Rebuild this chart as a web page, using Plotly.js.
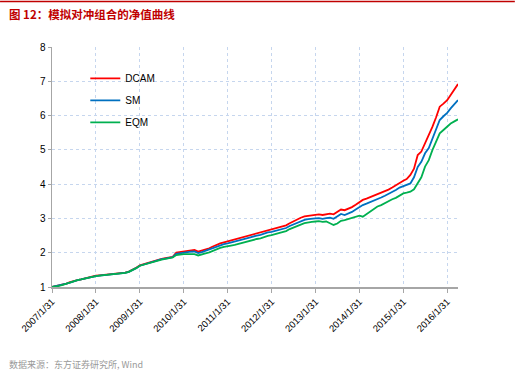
<!DOCTYPE html>
<html>
<head>
<meta charset="utf-8">
<script src="https://cdn.plot.ly/plotly-3.0.1.min.js"></script>
<style>
html,body{margin:0;padding:0;background:#fff;}
#chart{width:515px;height:376px;}
</style>
</head>
<body>
<div id="chart"></div>
<script>
// Monthly dates 2007-01 .. 2016-04 (month-end)
const startYear = 2007, startMonth = 0, nMonths = 112;
const dates = [];
for (let i = 0; i < nMonths; i++) {
  const y = startYear + Math.floor((startMonth + i) / 12);
  const m = (startMonth + i) % 12;
  const last = new Date(Date.UTC(y, m + 1, 0)).getUTCDate();
  dates.push(y + '-' + String(m + 1).padStart(2, '0') + '-' + String(last).padStart(2, '0'));
}

const dcam = [
  1.00,1.02,1.05,1.08,1.10,1.14,1.18,1.20,1.22,1.25,1.28,1.30,
  1.33,1.34,1.35,1.36,1.36,1.37,1.38,1.40,1.42,1.45,1.50,1.56,
  1.63,1.66,1.70,1.72,1.76,1.79,1.82,1.84,1.86,1.88,2.00,2.02,
  2.04,2.05,2.07,2.08,2.03,2.06,2.10,2.13,2.18,2.23,2.27,2.30,
  2.33,2.36,2.38,2.40,2.43,2.46,2.50,2.54,2.56,2.58,2.62,2.66,
  2.68,2.71,2.73,2.76,2.80,2.86,2.92,2.97,3.02,3.06,3.08,3.10,
  3.11,3.12,3.10,3.13,3.14,3.12,3.18,3.26,3.24,3.28,3.33,3.40,
  3.48,3.54,3.58,3.62,3.66,3.71,3.74,3.79,3.84,3.90,3.97,4.05,
  4.10,4.15,4.27,4.45,4.85,4.95,5.20,5.40,5.67,5.95,6.26,6.35,
  6.45,6.60,6.75,6.92
];
const sm = [
  1.00,1.02,1.05,1.07,1.10,1.13,1.17,1.20,1.22,1.25,1.28,1.30,
  1.32,1.33,1.34,1.35,1.35,1.36,1.37,1.39,1.41,1.44,1.49,1.55,
  1.62,1.65,1.69,1.71,1.75,1.78,1.81,1.83,1.85,1.87,1.97,1.99,
  2.00,2.01,2.03,2.04,1.99,2.02,2.06,2.09,2.14,2.18,2.22,2.25,
  2.27,2.30,2.32,2.35,2.38,2.41,2.44,2.48,2.50,2.52,2.56,2.59,
  2.61,2.64,2.66,2.69,2.72,2.78,2.83,2.88,2.92,2.96,2.98,3.00,
  3.00,3.01,2.99,3.01,3.02,2.99,3.05,3.13,3.10,3.14,3.19,3.26,
  3.33,3.39,3.43,3.48,3.52,3.58,3.61,3.66,3.71,3.76,3.83,3.90,
  3.94,3.98,4.02,4.20,4.50,4.65,4.90,5.05,5.34,5.60,5.87,5.98,
  6.08,6.21,6.33,6.45
];
const eqm = [
  1.00,1.01,1.03,1.06,1.10,1.14,1.18,1.20,1.22,1.25,1.28,1.30,
  1.32,1.33,1.34,1.35,1.35,1.36,1.37,1.39,1.41,1.44,1.49,1.55,
  1.62,1.65,1.69,1.71,1.74,1.77,1.80,1.82,1.84,1.86,1.93,1.95,
  1.96,1.96,1.97,1.96,1.92,1.94,1.98,2.01,2.06,2.10,2.14,2.17,
  2.18,2.21,2.23,2.26,2.29,2.32,2.35,2.38,2.40,2.42,2.46,2.49,
  2.51,2.55,2.57,2.60,2.63,2.69,2.74,2.78,2.82,2.86,2.89,2.90,
  2.91,2.92,2.90,2.91,2.86,2.81,2.85,2.93,2.95,2.98,3.02,3.06,
  3.08,3.05,3.12,3.20,3.28,3.35,3.39,3.45,3.50,3.56,3.60,3.66,
  3.73,3.75,3.78,3.85,4.02,4.20,4.51,4.70,4.99,5.25,5.48,5.58,
  5.68,5.77,5.83,5.89
];

const tickDates = ['2007-01-31','2008-01-31','2009-01-31','2010-01-31','2011-01-31',
  '2012-01-31','2013-01-31','2014-01-31','2015-01-31','2016-01-31'];
const tickLabels = ['2007/1/31','2008/1/31','2009/1/31','2010/1/31','2011/1/31',
  '2012/1/31','2013/1/31','2014/1/31','2015/1/31','2016/1/31'];
const yTicks = [1,2,3,4,5,6,7,8];

const seriesNames = ['DCAM','SM','EQM'];
const seriesColors = ['#ff0000','#0070c0','#00b050'];
const seriesData = [dcam, sm, eqm];

const traces = seriesData.map((v, i) => ({
  x: dates, y: v, type: 'scatter', mode: 'lines', name: seriesNames[i],
  legendgroup: 'g' + i,
  line: {color: seriesColors[i], width: 1.8}
}));

const font = "'Liberation Sans', Arial, sans-serif";
const layout = {
  width: 515, height: 376,
  margin: {l: 52, r: 57, t: 47, b: 89},
  paper_bgcolor: '#ffffff', plot_bgcolor: '#ffffff',
  showlegend: true,
  legend: {
    x: 0.082, y: 0.93, xanchor: 'left', yanchor: 'top',
    bgcolor: 'rgba(0,0,0,0)', font: {family: font, size: 10, color: '#000'},
    itemwidth: 30, tracegroupgap: 3, traceorder: 'grouped'
  },
  xaxis: {
    type: 'date', range: ['2007-01-31', '2016-04-30'],
    tickmode: 'array', tickvals: tickDates, ticktext: tickLabels,
    tickangle: -45, tickfont: {family: font, size: 9.5, color: '#000'},
    showgrid: true, gridcolor: '#c6d6ee', griddash: 'dot', gridwidth: 1,
    showline: true, linecolor: '#a6a6a6', linewidth: 1.5,
    ticks: 'outside', ticklen: 4, tickcolor: '#a6a6a6',
    zeroline: false, fixedrange: true
  },
  yaxis: {
    range: [1, 8], tickmode: 'array', tickvals: yTicks,
    tickfont: {family: font, size: 10, color: '#000'},
    showgrid: true, gridcolor: '#c6d6ee', griddash: 'dot', gridwidth: 1,
    showline: true, linecolor: '#a6a6a6', linewidth: 1.5,
    ticks: 'outside', ticklen: 3, tickcolor: '#a6a6a6',
    zeroline: false, fixedrange: true
  },
  shapes: [
    {type: 'line', xref: 'paper', yref: 'paper', x0: -0.128, x1: 1.14, y0: 1.19, y1: 1.19,
     line: {color: '#c00000', width: 1.5}}
  ],
  annotations: [
    {text: '<b>图 12：模拟对冲组合的净值曲线</b>', xref: 'paper', yref: 'paper',
     x: -0.11, y: 1.137, xanchor: 'left', yanchor: 'middle', showarrow: false,
     font: {family: "'Noto Sans CJK SC', sans-serif", size: 11.5, color: '#c00000'}},
    {text: '数据来源：东方证券研究所, Wind', xref: 'paper', yref: 'paper',
     x: -0.11, y: -0.322, xanchor: 'left', yanchor: 'middle', showarrow: false,
     font: {family: "'Noto Sans CJK SC', sans-serif", size: 9, color: '#999999'}}
  ]
};

Plotly.newPlot('chart', traces, layout, {displayModeBar: false, staticPlot: true});
</script>
</body>
</html>
